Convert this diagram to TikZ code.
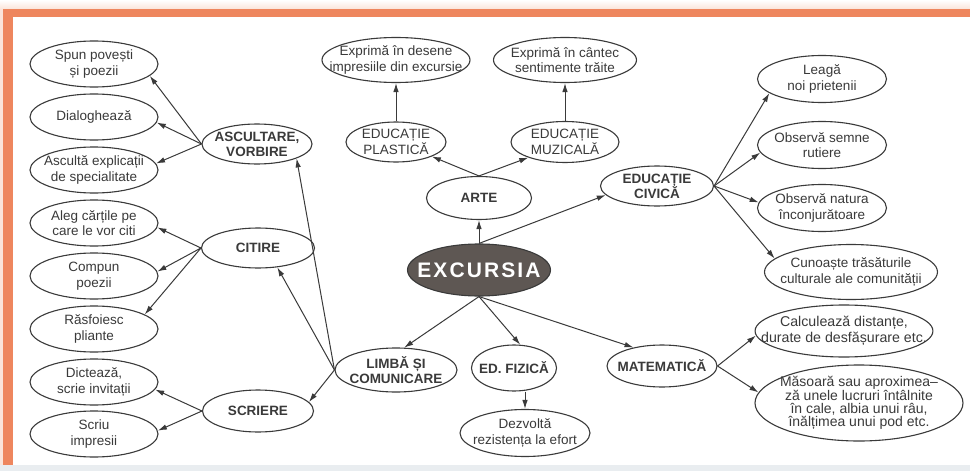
\documentclass[tikz,border=0pt]{standalone}
\usepackage{fontspec}
\setmainfont{Liberation Sans}
\usepackage{xcolor}
\usetikzlibrary{arrows.meta,shapes.geometric}
\definecolor{frameorange}{HTML}{EE865E}
\definecolor{frameglow}{HTML}{FBE4DA}
\definecolor{stripgray}{HTML}{E9EDF0}
\definecolor{inkgray}{HTML}{3A3A3A}
\definecolor{hubfill}{HTML}{5E5753}

\begin{document}
\begin{tikzpicture}[x = 1pt, y = 1pt,
    oval/.style = {ellipse, draw = inkgray, line width = 1.1pt, inner sep = -20pt, align = center, text = inkgray, font = \fontsize{13.5}{15.5}\selectfont},
    leaf/.style = {oval, minimum width = 128pt, minimum height = 46pt},
    topic/.style = {oval, font = \fontsize{13.5}{15}\selectfont\bfseries},
    link/.style = {draw = inkgray, line width = 1pt, -{Latex[length = 9pt, width = 5.5pt]}}]
    \useasboundingbox (0,0) rectangle (970,-471);
    % Frame
    \fill[white] (0,0) rectangle (970,-471);
    \shade[top color = white, bottom color = frameglow] (0,0) rectangle (970,-9);
    \fill[frameorange] (0,-9) rectangle (970,-17);
    \fill[frameglow] (0,-9) rectangle (3,-466);
    \fill[frameorange] (3,-9) rectangle (13,-466);
    \fill[stripgray] (0,-465) rectangle (970,-471);
    % Centre
    \node[ellipse, fill = hubfill, draw = inkgray, line width = 1.1pt, minimum width = 143pt, minimum height = 52pt, inner sep = -20pt, text = white, font = \fontsize{21}{24}\selectfont\bfseries\addfontfeature{LetterSpace = 10}] (excursia) at (479,-270) {EXCURSIA};
    % Arte
    \node[topic, minimum width = 105pt, minimum height = 43pt] (arte) at (479,-198) {ARTE};
    \node[oval, minimum width = 100pt, minimum height = 40pt] (plastica) at (396,-142) {EDUCAȚIE\\PLASTICĂ};
    \node[oval, minimum width = 108pt, minimum height = 41pt] (muzicala) at (565,-142) {EDUCAȚIE\\MUZICALĂ};
    \node[oval, minimum width = 148pt, minimum height = 45pt] (desene) at (396,-60) {Exprimă în desene\\impresiile din excursie};
    \node[oval, minimum width = 143pt, minimum height = 45pt] (cantec) at (565,-60) {Exprimă în cântec\\sentimente trăite};
    % Educatie civica
    \node[topic, minimum width = 113pt, minimum height = 40pt] (civica) at (657,-186) {EDUCAȚIE\\CIVICĂ};
    \node[leaf, minimum width = 129pt, minimum height = 47pt] (leaga) at (822,-79) {Leagă\\noi prietenii};
    \node[leaf, minimum width = 129pt, minimum height = 47pt] (semne) at (822,-145) {Observă semne\\rutiere};
    \node[leaf, minimum width = 129pt, minimum height = 47pt] (natura) at (822,-208) {Observă natura\\înconjurătoare};
    \node[leaf, minimum width = 173pt, minimum height = 55pt] (cunoaste) at (851,-272) {Cunoaște trăsăturile\\culturale ale comunității};
    % Limba si comunicare
    \node[topic, minimum width = 122pt, minimum height = 44pt] (limba) at (396,-370) {LIMBĂ ȘI\\COMUNICARE};
    \node[topic, minimum width = 110pt, minimum height = 40pt] (ascultare) at (257,-144) {ASCULTARE,\\VORBIRE};
    \node[topic, minimum width = 113pt, minimum height = 40pt] (citire) at (258,-248) {CITIRE};
    \node[topic, minimum width = 111pt, minimum height = 42pt] (scriere) at (258,-411) {SCRIERE};
    \node[leaf] (spun) at (94,-64) {Spun povești\\și poezii};
    \node[leaf] (dialog) at (94,-117) {Dialoghează};
    \node[leaf] (ascult) at (94,-170) {Ascultă explicații\\de specialitate};
    \node[leaf] (aleg) at (94,-223) {Aleg cărțile pe\\care le vor citi};
    \node[leaf] (compun) at (94,-276) {Compun\\poezii};
    \node[leaf] (rasfoiesc) at (94,-329) {Răsfoiesc\\pliante};
    \node[leaf] (dicteaza) at (94,-382) {Dictează,\\scrie invitații};
    \node[leaf] (scriu) at (94,-434) {Scriu\\impresii};
    % Ed. fizica
    \node[topic, minimum width = 85pt, minimum height = 46pt] (fizica) at (514,-368) {ED. FIZICĂ};
    \node[oval, minimum width = 130pt, minimum height = 47pt] (dezvolta) at (525,-433) {Dezvoltă\\rezistența la efort};
    % Matematica
    \node[topic, minimum width = 110pt, minimum height = 42pt] (matematica) at (662,-366) {MATEMATICĂ};
    \node[oval, minimum width = 172pt, minimum height = 52pt, font = \fontsize{14.2}{16}\selectfont] (calculeaza) at (844,-331) {Calculează distanțe,\\durate de desfășurare etc.};
    \node[oval, minimum width = 208pt, minimum height = 76pt, font = \fontsize{14}{13.2}\selectfont] (masoara) at (859,-403) {Măsoară sau aproximea–\\ză unele lucruri întâlnite\\în cale, albia unui râu,\\înălțimea unui pod etc.};
    % Upper links
    \draw[link] (excursia.north) -- (arte);
    \draw[link] (excursia.north) -- (civica.190);
    \draw[link] (arte.north) -- (plastica.-22);
    \draw[link] (arte.north) -- (muzicala.203);
    \draw[link] (plastica) -- (desene);
    \draw[link] (muzicala) -- (cantec);
    \draw[link] (civica.east) -- (leaga.195);
    \draw[link] (civica.east) -- (semne.187);
    \draw[link] (civica.east) -- (natura.175);
    \draw[link] (civica.east) -- (cunoaste.170);
    % Lower links
    \draw[link] (excursia.south) -- (limba.70);
    \draw[link] (excursia.south) -- (fizica.75);
    \draw[link] (excursia.south) -- (matematica.147);
    \draw[link] (fizica.south -| dezvolta.north) -- (dezvolta);
    \draw[link] (matematica.east) -- (calculeaza.183);
    \draw[link] (matematica.east) -- (masoara.174);
    \draw[link] (limba.west) -- (ascultare.-20);
    \draw[link] (limba.west) -- (citire.-45);
    \draw[link] (limba.west) -- (scriere.10);
    % Left leaves
    \draw[link] (ascultare.west) -- (spun.-12);
    \draw[link] (ascultare.west) -- (dialog.-5);
    \draw[link] (ascultare.west) -- (ascult.6);
    \draw[link] (citire.west) -- (aleg.-4);
    \draw[link] (citire.west) -- (compun.4);
    \draw[link] (citire.west) -- (rasfoiesc.16);
    \draw[link] (scriere.west) -- (dicteaza.-7);
    \draw[link] (scriere.west) -- (scriu.3);
\end{tikzpicture}
\end{document}
